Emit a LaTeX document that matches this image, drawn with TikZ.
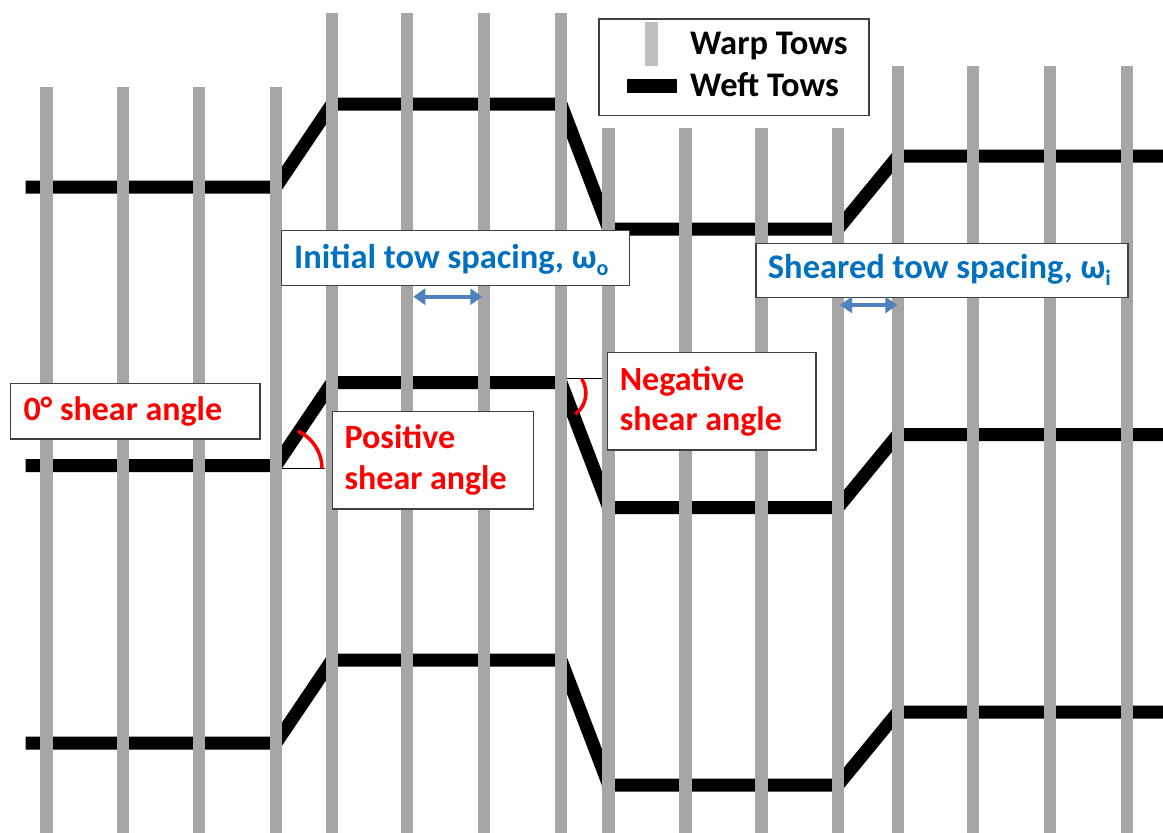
\documentclass[tikz,border=0pt]{standalone}
\usepackage{fontspec}
\setmainfont{Carlito}
\usetikzlibrary{arrows.meta}
\definecolor{warpgray}{HTML}{A6A6A6}
\definecolor{warplight}{HTML}{BFBFBF}
\definecolor{lblue}{HTML}{0070C0}
\definecolor{arrblue}{HTML}{4F81BD}
\definecolor{boxline}{HTML}{404040}
\definecolor{lred}{HTML}{FF0000}
\newcommand{\wsub}[1]{\raisebox{-0.22em}{\fontsize{22}{22}\selectfont #1}}
\begin{document}
\begin{tikzpicture}[x=1pt,y=-1pt,
  weft/.style={line width=13pt, line join=bevel},
  warpbar/.style={fill=warpgray, draw=none},
  lbox/.style={draw=boxline, line width=1.2pt, fill=white, anchor=north west, inner sep=0pt},
  redtxt/.style={text=lred, anchor=base west, inner sep=0pt, font=\fontsize{34}{40}\selectfont\bfseries},
  bluetxt/.style={text=lblue, anchor=base west, inner sep=0pt, font=\fontsize{34.5}{40}\selectfont\bfseries},
  legtxt/.style={text=black, anchor=base west, inner sep=0pt, font=\fontsize{34.5}{40}\selectfont\bfseries},
  refline/.style={draw=black, line width=1.5pt},
  anglearc/.style={draw=lred, line width=3.5pt},
  spacing/.style={draw=arrblue, line width=3.8pt, {Triangle[length=12pt,width=16pt]}-{Triangle[length=12pt,width=16pt]}}
]
\useasboundingbox (0,0) rectangle (1163,833);
\fill[white] (0,0) rectangle (1163,833);

% weft tows
\foreach \d in {0,278.5,556}{
  \draw[weft] (25.6,187+\d) -- (276,187+\d) -- (332,104+\d) -- (561,104+\d)
     -- (608.7,229+\d) -- (838,229+\d) -- (898,156+\d) -- (1163,156+\d);
}

% warp tows
\foreach \x/\t in {46.5/86.7,123/86.7,199/86.7,276/86.7,
                   332/13.3,407/13.3,484/13.3,561/13.3,
                   608.7/128.3,685.6/128.3,761.4/128.3,838/128.3,
                   898/66,973/66,1050/66,1127/66}{
  \fill[warpbar] (\x-6.3,\t) rectangle (\x+6.3,833);
}

% legend
\node[lbox, minimum width=270pt, minimum height=96.7pt] (legend) at (598.3,18.3) {};
\fill[warplight] (645,21.7) rectangle (658.3,66);
\fill[black] (627.3,79.3) rectangle (677.3,93.3);
\node[legtxt] (warplbl) at (690,54) {Warp Tows};
\node[legtxt] (weftlbl) at (690,96) {Weft Tows};

% label boxes
\node[lbox, minimum width=249.3pt, minimum height=55.6pt] (zerobox) at (10,382.7) {};
\node[redtxt] (zerotxt) at (23.3,420) {0° shear angle};

\node[lbox, minimum width=348.5pt, minimum height=55pt] (initbox) at (280.5,230) {};
\node[bluetxt] (inittxt) at (294,268.3) {Initial tow spacing, ω\wsub{o}};

\node[lbox, minimum width=371.9pt, minimum height=54pt] (shearbox) at (755.4,242.7) {};
\node[bluetxt] (sheartxt) at (767.7,278.3) {Sheared tow spacing, ω\wsub{i}};

\node[lbox, minimum width=200.9pt, minimum height=97.6pt] (posbox) at (331.8,410.7) {};
\node[redtxt] (postxt1) at (344.4,448.3) {Positive};
\node[redtxt] (postxt2) at (344.4,489) {shear angle};

\node[lbox, minimum width=208.9pt, minimum height=97.6pt] (negbox) at (606.5,351.7) {};
\node[redtxt] (negtxt1) at (619.6,390) {Negative};
\node[redtxt] (negtxt2) at (619.6,430.7) {shear angle};

% shear angle marks
\coordinate (posA) at (281.7,468.5);
\coordinate (posB) at (325,468.5);
\draw[refline] (posA) -- (posB);
\draw[anglearc] (322,468.5) arc[start angle=0, end angle=-66, radius=41];

\coordinate (negA) at (566.7,378.5);
\coordinate (negB) at (602,378.5);
\draw[refline] (negA) -- (negB);
\draw[anglearc] (581.7,379) arc[start angle=-33, end angle=53.5, radius=26];

% spacing arrows
\coordinate (iniL) at (413.3,296.7);
\coordinate (iniR) at (482.3,296.7);
\draw[spacing] (iniL) -- (iniR);
\coordinate (shL) at (840,305);
\coordinate (shR) at (897.3,305);
\draw[spacing] (shL) -- (shR);
\end{tikzpicture}
\end{document}
